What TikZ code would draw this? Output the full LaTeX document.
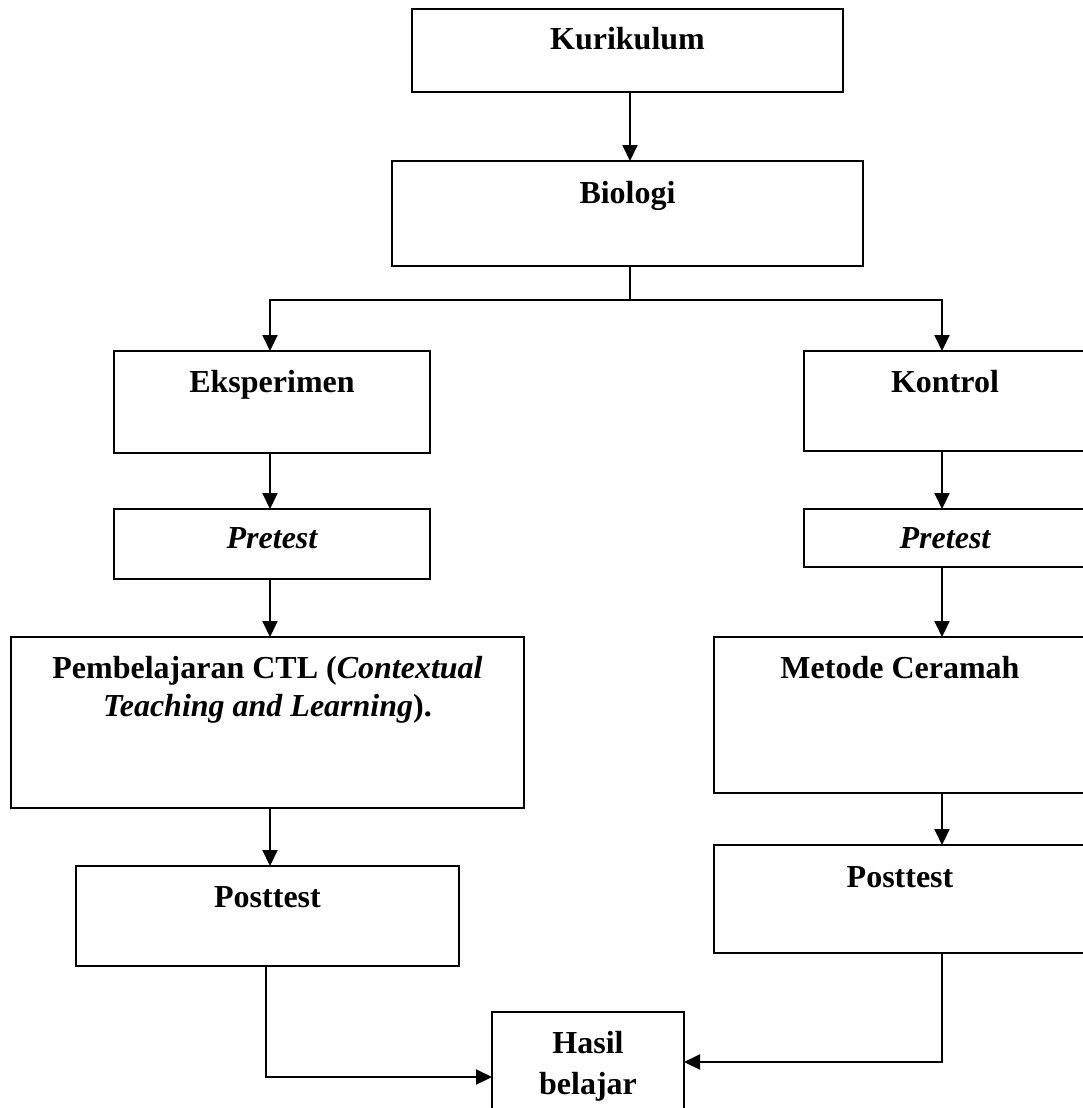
\documentclass[tikz,border=0pt]{standalone}
\usepackage{fontspec}
\setmainfont{Liberation Serif}
\usetikzlibrary{arrows.meta}
\begin{document}
\begin{tikzpicture}[x=1pt,y=-1pt,
  box/.style={draw=black, line width=1.7pt, rectangle, inner sep=0pt, outer sep=0pt},
  lbl/.style={anchor=base, inner sep=0pt, font=\fontsize{32}{37}\selectfont\bfseries},
  ilbl/.style={lbl, font=\fontsize{32}{37}\selectfont\bfseries\itshape},
  ln/.style={draw=black, line width=1.8pt},
  arr/.style={draw=black, line width=2.1pt, -{Triangle[length=16pt,width=15pt]}}]
\useasboundingbox (0,0) rectangle (1083,1108);
\fill[white] (0,0) rectangle (1083,1108);
\clip (0,0) rectangle (1083,1108);
% boxes
\node[box, minimum width=431pt, minimum height=83pt] (kur) at (627.5,50.5) {};
\node[box, minimum width=471pt, minimum height=105pt] (bio) at (627.5,213.5) {};
\node[box, minimum width=316pt, minimum height=102pt] (eksp) at (272,402) {};
\node[box, minimum width=282pt, minimum height=100pt] (kon) at (945,401) {};
\node[box, minimum width=316pt, minimum height=70pt] (pre1) at (272,544) {};
\node[box, minimum width=282pt, minimum height=58pt] (pre2) at (945,538) {};
\node[box, minimum width=513pt, minimum height=171pt] (ctl) at (267.5,722.5) {};
\node[box, minimum width=372pt, minimum height=156pt] (met) at (900,715) {};
\node[box, minimum width=383pt, minimum height=100pt] (post1) at (267.5,916) {};
\node[box, minimum width=372pt, minimum height=108pt] (post2) at (900,899) {};
\node[box, minimum width=192pt, minimum height=118pt] (hasil) at (588,1071) {};
% texts
\node[lbl] (tkur) at (627.5,50) {Kurikulum};
\node[lbl] (tbio) at (627.5,203) {Biologi};
\node[lbl] (teksp) at (272,392) {Eksperimen};
\node[lbl] (tkon) at (945,392) {Kontrol};
\node[ilbl] (tpre1) at (272,548) {Pretest};
\node[ilbl] (tpre2) at (945,548) {Pretest};
\node[lbl] (tctla) at (267.5,678) {Pembelajaran CTL (\textit{Contextual}};
\node[lbl] (tctlb) at (267.5,716) {\textit{Teaching and Learning}).};
\node[lbl] (tmet) at (900,678) {Metode Ceramah};
\node[lbl] (tpost1) at (267.5,907) {Posttest};
\node[lbl] (tpost2) at (900,887) {Posttest};
\node[lbl] (thasa) at (588,1053) {Hasil};
\node[lbl] (thasb) at (588,1094) {belajar};
% helper coordinates
\coordinate (lx) at (270,0);
\coordinate (rx) at (942,0);
\coordinate (br) at (630,300);
\coordinate (la) at (266,1077);
\coordinate (ra) at (942,1062);
% connectors
\draw[arr] (kur.south -| br) -- (bio.north -| br);
\draw[ln] (bio.south -| br) -- (br);
\draw[arr] (br) -| (eksp.north -| lx);
\draw[arr] (br) -| (kon.north -| rx);
\draw[arr] (eksp.south -| lx) -- (pre1.north -| lx);
\draw[arr] (pre1.south -| lx) -- (ctl.north -| lx);
\draw[arr] (ctl.south -| lx) -- (post1.north -| lx);
\draw[arr] (kon.south -| rx) -- (pre2.north -| rx);
\draw[arr] (pre2.south -| rx) -- (met.north -| rx);
\draw[arr] (met.south -| rx) -- (post2.north -| rx);
\draw[arr] (post1.south -| la) |- (hasil.west |- la);
\draw[arr] (post2.south -| ra) |- (hasil.east |- ra);
\end{tikzpicture}
\end{document}
